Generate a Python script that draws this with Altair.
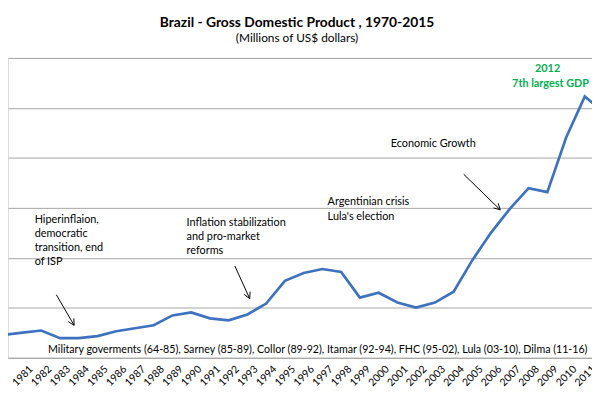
import altair as alt
import pandas as pd
import numpy as np

# ---- data (millions of US$) ----
years = list(range(1980, 2013))
gdp = [230000, 252000, 273000, 197000, 197000, 217000, 266000, 296000, 326000, 424000,
       454000, 395000, 375000, 434000, 543000, 770000, 849000, 888000, 859000, 602000,
       651000, 553000, 503000, 553000, 661000, 977000, 1253000, 1490000, 1697000, 1658000,
       2201000, 2615000, 2457000]
grid_values = [0, 500000, 1000000, 1500000, 2000000, 2500000, 3000000]

title_text = "Brazil  - Gross Domestic Product , 1970-2015"
subtitle_text = "(Millions of US$ dollars)"
footer_text = ("Military goverments (64-85), Sarney (85-89), Collor (89-92), Itamar (92-94), "
               "FHC (95-02), Lula (03-10), Dilma (11-16)")

df = pd.DataFrame({"year": years, "gdp": gdp})

FONT = "Lato"
W, H = 592, 304
PT, PB = 48, 30

x_scale = alt.Scale(domain=[1980.226, 2011.384], nice=False, zero=False)
y_scale = alt.Scale(domain=[0, 3000000], nice=False)

line = alt.Chart(df).mark_line(color="#3C72C0", strokeWidth=2.7, clip=True).encode(
    x=alt.X("year:Q", scale=x_scale,
            axis=alt.Axis(values=years, format="d", labelAngle=-45, labelAlign="center",
                          labelBaseline="middle", ticks=False, grid=False, title=None,
                          domainColor="#A6A6A6", domainWidth=1, labelPadding=18,
                          labelFontSize=10.5, labelColor="#000000", labelFont=FONT,
                          labelOverlap=False, labelFlush=False, labelBound=False)),
    y=alt.Y("gdp:Q", scale=y_scale,
            axis=alt.Axis(values=grid_values, labels=False, ticks=False, domain=False,
                          grid=True, gridColor="#A6A6A6", gridWidth=1, title=None)),
)

# ---- annotations (pixel positions inside the plot area) ----
notes = pd.DataFrame([
    {"t": "Hiperinflaion,", "x": 27, "y": 164, "c": "#000000", "w": "normal", "a": "left", "s": 11},
    {"t": "democratic", "x": 27, "y": 179, "c": "#000000", "w": "normal", "a": "left", "s": 11},
    {"t": "transition, end", "x": 27, "y": 193, "c": "#000000", "w": "normal", "a": "left", "s": 11},
    {"t": "of ISP", "x": 27, "y": 207, "c": "#000000", "w": "normal", "a": "left", "s": 11},
    {"t": "Inflation stabilization", "x": 181, "y": 167, "c": "#000000", "w": "normal", "a": "left", "s": 11},
    {"t": "and  pro-market", "x": 181, "y": 182, "c": "#000000", "w": "normal", "a": "left", "s": 11},
    {"t": "reforms", "x": 181, "y": 196, "c": "#000000", "w": "normal", "a": "left", "s": 11},
    {"t": "Economic Growth", "x": 388, "y": 87, "c": "#000000", "w": "normal", "a": "left", "s": 11},
    {"t": "Argentinian crisis", "x": 324, "y": 146, "c": "#000000", "w": "normal", "a": "left", "s": 11},
    {"t": "Lula's election", "x": 324, "y": 161, "c": "#000000", "w": "normal", "a": "left", "s": 11},
    {"t": "2012", "x": 547, "y": 11, "c": "#00B050", "w": "bold", "a": "center", "s": 11},
    {"t": "7th largest GDP", "x": 550, "y": 26, "c": "#00B050", "w": "bold", "a": "center", "s": 11},
    {"t": footer_text, "x": 314, "y": 296, "c": "#000000", "w": "normal", "a": "center", "s": 10.8},
])

text_layers = []
for (w, a, s), sub in notes.groupby(["w", "a", "s"]):
    text_layers.append(
        alt.Chart(sub).mark_text(font=FONT, fontSize=float(s), fontWeight=w, align=a,
                                 baseline="middle").encode(
            x=alt.X("x:Q", scale=None), y=alt.Y("y:Q", scale=None),
            text="t:N", color=alt.Color("c:N", scale=None))
    )

# arrows: start -> tip (page pixels converted to plot pixels)
arrows = [((57, 296), (75, 327)), ((238, 267), (253, 300)), ((470, 174), (507, 210))]
segs = []
for (x0, y0), (x1, y1) in arrows:
    x0, x1 = x0 - 8, x1 - 8
    y0, y1 = y0 - 56, y1 - 56
    segs.append({"x": x0, "y": y0, "x2": x1, "y2": y1})
    d = np.array([x1 - x0, y1 - y0], dtype=float)
    d /= np.linalg.norm(d)
    for ang in (np.radians(28), -np.radians(28)):
        r = np.array([[np.cos(ang), -np.sin(ang)], [np.sin(ang), np.cos(ang)]]) @ d
        segs.append({"x": x1, "y": y1, "x2": x1 - 7 * r[0], "y2": y1 - 7 * r[1]})
seg_df = pd.DataFrame(segs)

arrow_layer = alt.Chart(seg_df).mark_rule(color="#000000", strokeWidth=1).encode(
    x=alt.X("x:Q", scale=None), y=alt.Y("y:Q", scale=None),
    x2="x2:Q", y2="y2:Q")

chart = alt.layer(line, arrow_layer, *text_layers).properties(
    width=W, height=H,
    title=alt.Title(title_text, subtitle=subtitle_text, anchor="middle", font=FONT,
                    fontSize=14, fontWeight="bold", color="#000000",
                    subtitleFont=FONT, subtitleFontSize=12, subtitleColor="#000000",
                    subtitlePadding=3, offset=14, dx=-3),
    autosize=alt.AutoSizeParams(type="none"),
    padding={"left": 0, "right": 0, "top": PT, "bottom": PB},
).configure_view(stroke=None).configure(background="white")

chart.save("out.html", embed_options={"renderer": "svg", "actions": False})
